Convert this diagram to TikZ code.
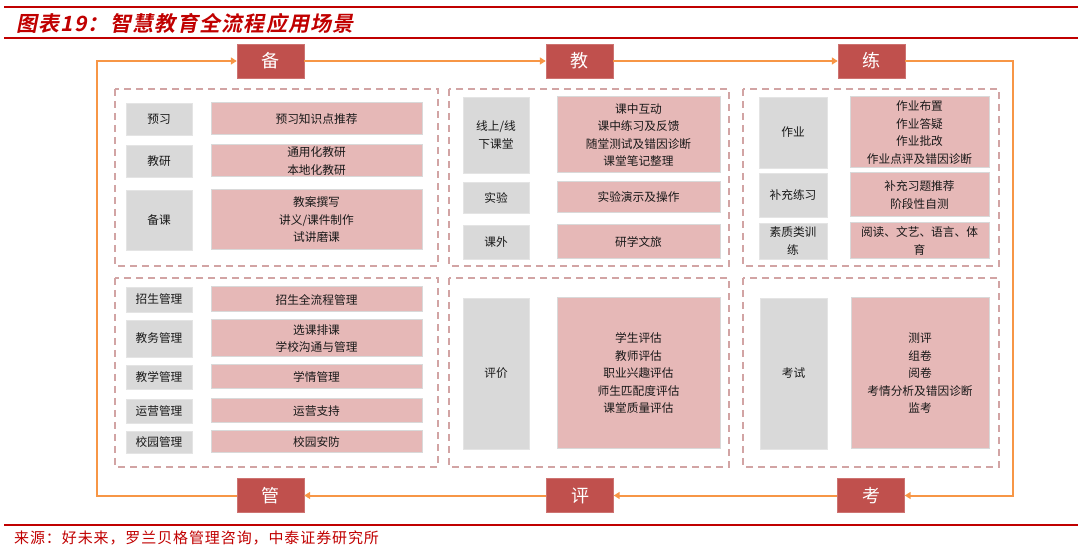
\documentclass[tikz,border=0pt]{standalone}
\usepackage{fontspec}
\setmainfont{Noto Sans CJK SC}
\newfontfamily\titlefont{Noto Sans CJK SC Bold}[FakeSlant=0.2,LetterSpace=6]
\newfontfamily\sourcefont{Noto Sans CJK SC}[LetterSpace=6]
\usetikzlibrary{arrows.meta}
\definecolor{figRed}{RGB}{192,0,0}
\definecolor{figStage}{RGB}{192,80,77}
\definecolor{figPink}{RGB}{230,184,183}
\definecolor{figGrey}{RGB}{217,217,217}
\definecolor{figDash}{RGB}{210,164,164}
\definecolor{figOrange}{RGB}{247,150,70}

\begin{document}
\begin{tikzpicture}[x=1pt,y=-1pt,>={Triangle[length=6pt,width=7pt]},
  stagebox/.style={fill=figStage,draw=figStage!80!white,text=white,minimum width=67,minimum height=34,inner sep=0pt,font=\fontsize{18}{20}\selectfont},
  keybox/.style={fill=figGrey,draw=figGrey!70!white,inner sep=0pt,align=center,text=black!90,font=\fontsize{11.7}{17.5}\selectfont},
  itembox/.style={fill=figPink,draw=black!15,line width=1pt,inner sep=0pt,align=center,text=black!90,font=\fontsize{11.7}{17.5}\selectfont},
  panel/.style={draw=figDash,line width=1.7pt,dash pattern=on 7pt off 5pt},
  flow/.style={draw=figOrange,line width=2pt}]
\useasboundingbox (0,0) rectangle (1080,553);
\draw[figRed,line width=1.3pt] (4,7) -- (1078,7);
\draw[figRed,line width=1.3pt] (4,38) -- (1078,38);
\draw[figRed,line width=1.3pt] (4,525) -- (1078,525);
\node[anchor=west,text=figRed,inner sep=0pt,font=\titlefont\fontsize{21}{23}\selectfont] (title) at (16,23) {图表19：智慧教育全流程应用场景};
\node[anchor=west,text=figRed,inner sep=0pt,font=\sourcefont\fontsize{15}{16}\selectfont] (source) at (14,538) {来源：好未来，罗兰贝格管理咨询，中泰证券研究所};

\draw[panel] (115,89) rectangle (438,266);
\draw[panel] (449,89) rectangle (729,266);
\draw[panel] (743,89) rectangle (999,266);
\draw[panel] (115,278) rectangle (438,467);
\draw[panel] (449,278) rectangle (729,467);
\draw[panel] (743,278) rectangle (999,467);

\node[stagebox] (bei) at (270.5,61) {备};
\node[stagebox] (jiao) at (579.5,61) {教};
\node[stagebox] (lian) at (871.5,61) {练};
\node[stagebox] (guan) at (270.5,495.5) {管};
\node[stagebox] (ping) at (580,495.5) {评};
\node[stagebox] (kao) at (871,495.5) {考};

\node[keybox,minimum width=66,minimum height=32] (yuxi) at (159,119) {预习};
\node[itembox,minimum width=211,minimum height=32] (yuxiI) at (316.5,119) {预习知识点推荐};
\node[keybox,minimum width=66,minimum height=32] (jiaoyan) at (159,161) {教研};
\node[itembox,minimum width=211,minimum height=32] (jiaoyanI) at (316.5,161) {通用化教研\\本地化教研};
\node[keybox,minimum width=66,minimum height=60] (beike) at (159,220) {备课};
\node[itembox,minimum width=211,minimum height=60] (beikeI) at (316.5,220) {教案撰写\\讲义/课件制作\\试讲磨课};

\node[keybox,minimum width=66,minimum height=76] (ketang) at (496,135) {线上/线\\下课堂};
\node[itembox,minimum width=163,minimum height=76] (ketangI) at (638.5,135) {课中互动\\课中练习及反馈\\随堂测试及错因诊断\\课堂笔记整理};
\node[keybox,minimum width=66,minimum height=31] (shiyan) at (496,197.5) {实验};
\node[itembox,minimum width=163,minimum height=31] (shiyanI) at (638.5,197.5) {实验演示及操作};
\node[keybox,minimum width=66,minimum height=34] (kewai) at (496,242) {课外};
\node[itembox,minimum width=163,minimum height=34] (kewaiI) at (638.5,242) {研学文旅};

\node[keybox,minimum width=68,minimum height=71] (zuoye) at (793,132.5) {作业};
\node[itembox,minimum width=139,minimum height=71] (zuoyeI) at (919.5,132.5) {作业布置\\作业答疑\\作业批改\\作业点评及错因诊断};
\node[keybox,minimum width=68,minimum height=44] (buchong) at (793,195) {补充练习};
\node[itembox,minimum width=139,minimum height=44] (buchongI) at (919.5,195) {补充习题推荐\\阶段性自测};
\node[keybox,minimum width=68,minimum height=36] (suzhi) at (793,241) {素质类训\\练};
\node[itembox,minimum width=139,minimum height=36] (suzhiI) at (919.5,241) {阅读、文艺、语言、体\\育};

\node[keybox,minimum width=66,minimum height=25] (zhaosheng) at (159,299.5) {招生管理};
\node[itembox,minimum width=211,minimum height=25] (zhaoshengI) at (316.5,299.5) {招生全流程管理};
\node[keybox,minimum width=66,minimum height=37] (jiaowu) at (159,338.5) {教务管理};
\node[itembox,minimum width=211,minimum height=37] (jiaowuI) at (316.5,338.5) {选课排课\\学校沟通与管理};
\node[keybox,minimum width=66,minimum height=24] (jiaoxue) at (159,377) {教学管理};
\node[itembox,minimum width=211,minimum height=24] (jiaoxueI) at (316.5,377) {学情管理};
\node[keybox,minimum width=66,minimum height=24] (yunying) at (159,411) {运营管理};
\node[itembox,minimum width=211,minimum height=24] (yunyingI) at (316.5,411) {运营支持};
\node[keybox,minimum width=66,minimum height=22] (xiaoyuan) at (159,442) {校园管理};
\node[itembox,minimum width=211,minimum height=22] (xiaoyuanI) at (316.5,442) {校园安防};

\node[keybox,minimum width=66,minimum height=151] (pingjia) at (496,373.5) {评价};
\node[itembox,minimum width=163,minimum height=151] (pingjiaI) at (638.5,373.5) {学生评估\\教师评估\\职业兴趣评估\\师生匹配度评估\\课堂质量评估};

\node[keybox,minimum width=67,minimum height=151] (kaoshi) at (793.5,373.5) {考试};
\node[itembox,minimum width=138,minimum height=151] (kaoshiI) at (920,373.5) {测评\\组卷\\阅卷\\考情分析及错因诊断\\监考};

\coordinate (tl) at (97,61);
\coordinate (tr) at (1013,61);
\draw[flow,->] (guan.west) -- (guan.west -| tl) -- (tl) -- (bei.west);
\draw[flow,->] (bei) -- (jiao);
\draw[flow,->] (jiao) -- (lian);
\draw[flow,->] (lian.east) -- (tr) -- (tr |- kao.east) -- (kao.east);
\draw[flow,->] (kao) -- (ping);
\draw[flow,->] (ping) -- (guan);
\end{tikzpicture}
\end{document}
